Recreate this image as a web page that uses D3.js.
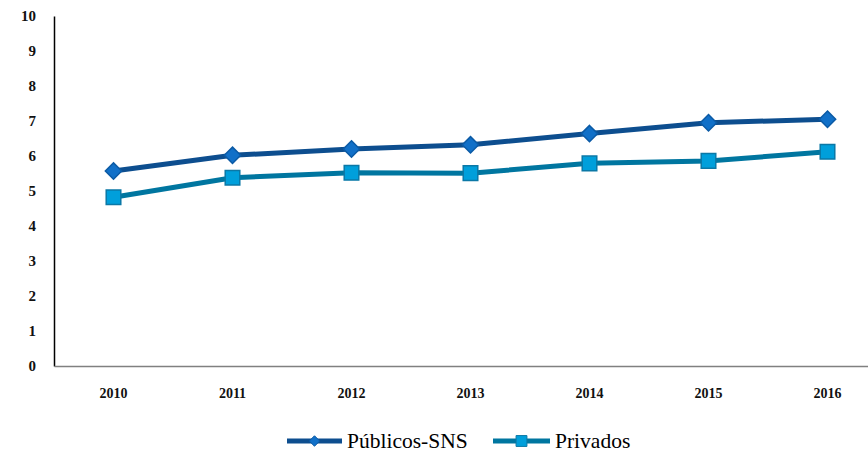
<!DOCTYPE html>
<html><head><meta charset="utf-8">
<script src="https://cdn.jsdelivr.net/npm/d3@7"></script>
<style>body{margin:0;background:#fff}svg{display:block}</style>
</head><body><svg id="c" width="868" height="456"></svg>
<script>
const years = ["2010","2011","2012","2013","2014","2015","2016"];
const publicos = [5.57, 6.02, 6.2, 6.32, 6.64, 6.95, 7.05];
const privados = [4.82, 5.38, 5.52, 5.51, 5.79, 5.86, 6.12];
const yTicks = [0,1,2,3,4,5,6,7,8,9,10];
const seriesNames = ["Públicos-SNS","Privados"];

const svg = d3.select("#c");
const x = d3.scaleBand().domain(years).range([54, 887]);
const y = d3.scaleLinear().domain([0,10]).range([366, 16]);
const font = "'Liberation Serif', 'Times New Roman', serif";

// axes
const yAxis = svg.append("g").attr("transform","translate(54,0)")
  .call(d3.axisLeft(y).tickValues(yTicks).tickSize(0).tickPadding(18).tickFormat(d3.format("d")));
yAxis.attr("font-family", null);
yAxis.select(".domain").attr("stroke","#000").attr("stroke-width",1.5);
yAxis.selectAll("text").style("font-family",font).style("font-size","15px").style("font-weight","bold").attr("fill","#111");

const xAxis = svg.append("g").attr("transform","translate(0,366)")
  .call(d3.axisBottom(x).tickSize(0).tickPadding(22));
xAxis.attr("font-family", null);
xAxis.select(".domain").attr("stroke","#808080").attr("stroke-width",1.5);
xAxis.selectAll("text").style("font-family",font).style("font-size","14px").style("font-weight","bold").attr("fill","#111");

const cx = d => x(d) + x.bandwidth()/2;
const styles = [
  {line:"#0D4E8F", fill:"#1170C8", stroke:"#0B5AA5", shape:d3.symbolDiamond2, size:170},
  {line:"#0076A0", fill:"#009FDB", stroke:"#0B78A6", shape:d3.symbolSquare2, size:270}
];
[publicos, privados].forEach((vals, i) => {
  const st = styles[i];
  const line = d3.line().x((d,j)=>cx(years[j])).y(d=>y(d));
  svg.append("path").datum(vals).attr("d", line).attr("fill","none")
    .attr("stroke", st.line).attr("stroke-width", 5).attr("stroke-linejoin","round");
  svg.selectAll(null).data(vals).enter().append("path")
    .attr("transform",(d,j)=>`translate(${cx(years[j])},${y(d)})`)
    .attr("d", d3.symbol().type(st.shape).size(st.size))
    .attr("fill", st.fill).attr("stroke", st.stroke).attr("stroke-width",1.5);
});

// legend
const legX = [287, 493];
const legW = [55, 57];
seriesNames.forEach((name,i)=>{
  const st = styles[i];
  const g = svg.append("g").attr("transform",`translate(${legX[i]},441)`);
  g.append("line").attr("x1",0).attr("x2",legW[i]).attr("stroke",st.line).attr("stroke-width",5);
  g.append("path").attr("transform",`translate(${legW[i]/2},0)`)
    .attr("d", d3.symbol().type(st.shape).size(i===0?70:150))
    .attr("fill",st.fill).attr("stroke",st.stroke).attr("stroke-width",1);
  g.append("text").attr("x",legW[i]+5).attr("y",7).text(name)
    .style("font-family",font).style("font-size","21.5px").attr("fill","#000");
});
</script></body></html>
